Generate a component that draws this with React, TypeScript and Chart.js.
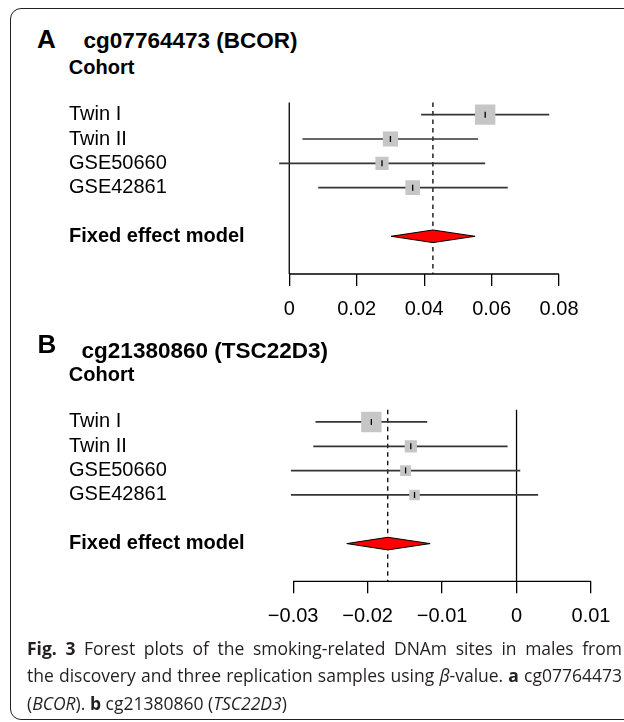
import React, { useEffect, useRef } from "react";
import { Chart, registerables } from "chart.js";

Chart.register(...registerables);

// ---------- data ----------
const COHORTS = ["Twin I", "Twin II", "GSE50660", "GSE42861"];
const MODEL_LABEL = "Fixed effect model";

const A_TITLE = "cg07764473 (BCOR)";
const A_EST = [0.0581, 0.03, 0.0275, 0.0366];
const A_LO = [0.0391, 0.0039, -0.003, 0.0086];
const A_HI = [0.0771, 0.056, 0.0581, 0.0648];
const A_WEIGHT = [40.1, 22.4, 16.9, 20.6];
const A_FIXED_LO = 0.0302;
const A_FIXED_EST = 0.0426;
const A_FIXED_HI = 0.0551;
const A_TICKS = [0, 0.02, 0.04, 0.06, 0.08];
const A_TICK_LABELS = ["0", "0.02", "0.04", "0.06", "0.08"];

const B_TITLE = "cg21380860 (TSC22D3)";
const B_EST = [-0.0195, -0.0142, -0.0149, -0.0137];
const B_LO = [-0.027, -0.0273, -0.0303, -0.0303];
const B_HI = [-0.012, -0.0012, 0.0005, 0.0029];
const B_WEIGHT = [52.3, 18.8, 15.0, 13.9];
const B_FIXED_LO = -0.0228;
const B_FIXED_EST = -0.0173;
const B_FIXED_HI = -0.0116;
const B_TICKS = [-0.03, -0.02, -0.01, 0, 0.01];
const B_TICK_LABELS = ["\u22120.03", "\u22120.02", "\u22120.01", "0", "0.01"];

// ---------- styling ----------
const CHART_FONT = "'Liberation Sans', Arial, Helvetica, sans-serif";
const CAPTION_FONT = "'Open Sans', 'Noto Sans', sans-serif";

type ForestProps = {
  est: number[];
  lo: number[];
  hi: number[];
  weight: number[];
  fixed: [number, number, number];
  ticks: number[];
  tickLabels: string[];
  xMin: number;
  xMax: number;
  top: number;
  height: number;
  padTop: number;
  padRight: number;
  yWidth: number;
  xHeight: number;
};

function Forest(p: ForestProps) {
  const ref = useRef<HTMLCanvasElement | null>(null);
  useEffect(() => {
    if (!ref.current) return;
    const modelRow = COHORTS.length + 1;
    const yMin = -0.5;
    const yMax = COHORTS.length + 2.55;
    const maxW = Math.max(...p.weight);
    const [fLo, fEst, fHi] = p.fixed;
    const h = 0.26;
    const rowTicks = [...COHORTS.map((_, i) => i), modelRow];
    const rowLabel = (v: number) => (v === modelRow ? MODEL_LABEL : COHORTS[v] ?? "");

    const ciSets = p.est.map((_, i) => ({
      data: [
        { x: p.lo[i], y: i },
        { x: p.hi[i], y: i },
      ],
      showLine: true,
      borderColor: "#353535",
      borderWidth: 1.7,
      pointRadius: 0,
      order: 3,
      clip: false as const,
    }));

    const chart = new Chart(ref.current, {
      type: "scatter",
      data: {
        datasets: [
          {
            data: p.est.map((x, i) => ({ x, y: i })),
            pointStyle: "line",
            rotation: 90,
            pointRadius: 3,
            borderColor: "#000",
            borderWidth: 1.3,
            order: 0,
          },
          {
            data: p.est.map((x, i) => ({ x, y: i })),
            pointStyle: "rect",
            pointRadius: p.weight.map((w) => 14.4 * Math.sqrt(w / maxW)),
            backgroundColor: "#c6c6c6",
            borderWidth: 0,
            order: 1,
          },
          {
            data: [
              { x: fLo, y: modelRow },
              { x: fEst, y: modelRow - h },
              { x: fHi, y: modelRow },
              { x: fEst, y: modelRow + h },
              { x: fLo, y: modelRow },
            ],
            showLine: true,
            fill: "shape",
            backgroundColor: "#ff0000",
            borderColor: "#000",
            borderWidth: 1,
            pointRadius: 0,
            order: 2,
          },
          ...ciSets,
          {
            data: [
              { x: fEst, y: yMin },
              { x: fEst, y: yMax },
            ],
            showLine: true,
            borderColor: "#000",
            borderWidth: 1.3,
            borderDash: [4.5, 4],
            pointRadius: 0,
            order: 4,
            clip: false as const,
          },
          {
            data: [
              { x: 0, y: yMin },
              { x: 0, y: yMax },
            ],
            showLine: true,
            borderColor: "#000",
            borderWidth: 1.3,
            pointRadius: 0,
            order: 5,
            clip: false as const,
          },
          {
            data: [
              { x: p.ticks[0], y: yMax },
              { x: p.ticks[p.ticks.length - 1], y: yMax },
            ],
            showLine: true,
            borderColor: "#000",
            borderWidth: 1.3,
            pointRadius: 0,
            order: 5,
            clip: false as const,
          },
        ] as any,
      },
      options: {
        responsive: false,
        animation: false,
        events: [],
        devicePixelRatio: 1,
        layout: { padding: { left: 69, top: p.padTop, right: p.padRight, bottom: 0 } },
        plugins: { legend: { display: false }, tooltip: { enabled: false }, title: { display: false } },
        scales: {
          x: {
            type: "linear",
            min: p.xMin,
            max: p.xMax,
            afterBuildTicks: (s: any) => {
              s.ticks = p.ticks.map((v) => ({ value: v }));
            },
            afterFit: (s: any) => {
              s.height = p.xHeight;
            },
            grid: {
              display: true,
              drawOnChartArea: false,
              drawTicks: true,
              tickLength: 12,
              color: "#000",
              lineWidth: 1.3,
            },
            border: { display: false },
            ticks: {
              autoSkip: false,
              maxRotation: 0,
              padding: 11,
              color: "#000",
              font: { family: CHART_FONT, size: 20 },
              callback: (_v: any, i: number) => p.tickLabels[i],
            },
          },
          y: {
            type: "linear",
            reverse: true,
            min: yMin,
            max: yMax,
            afterBuildTicks: (s: any) => {
              s.ticks = rowTicks.map((v) => ({ value: v }));
            },
            afterFit: (s: any) => {
              s.width = p.yWidth;
            },
            grid: { display: false },
            border: { display: false },
            ticks: {
              autoSkip: false,
              crossAlign: "far",
              color: "#000",
              font: (ctx: any) => ({
                family: CHART_FONT,
                size: 20,
                weight: ctx.tick && ctx.tick.value === modelRow ? "bold" : "normal",
              }),
              callback: (v: any) => rowLabel(Number(v)),
            },
          },
        },
      } as any,
    });
    return () => chart.destroy();
  }, []);
  return (
    <canvas
      ref={ref}
      width={624}
      height={p.height}
      style={{ position: "absolute", left: 0, top: p.top, width: 624, height: p.height }}
    />
  );
}

const heading = (
  text: string,
  left: number,
  top: number,
  size: number
): React.ReactElement => (
  <div
    style={{
      position: "absolute",
      left,
      top,
      fontFamily: CHART_FONT,
      fontSize: size,
      fontWeight: "bold",
      lineHeight: `${size}px`,
      whiteSpace: "nowrap",
      color: "#000",
    }}
  >
    {text}
  </div>
);

export default function App() {
  const lineStyle: React.CSSProperties = {
    height: 27.5,
    lineHeight: "27.5px",
    whiteSpace: "nowrap",
  };
  return (
    <div
      style={{
        position: "absolute",
        left: 0,
        top: 0,
        width: 624,
        height: 722,
        overflow: "hidden",
        background: "#fff",
      }}
    >
      <div
        style={{
          position: "absolute",
          left: 10.2,
          top: 7.5,
          width: 720,
          height: 712,
          border: "1.6px solid #222",
          borderRadius: 11,
          boxSizing: "border-box",
        }}
      />
      {heading("A", 37, 25.5, 26)}
      {heading(A_TITLE, 83.6, 30.3, 22.5)}
      {heading("Cohort", 68.8, 57.1, 20)}
      <Forest
        est={A_EST}
        lo={A_LO}
        hi={A_HI}
        weight={A_WEIGHT}
        fixed={[A_FIXED_LO, A_FIXED_EST, A_FIXED_HI]}
        ticks={A_TICKS}
        tickLabels={A_TICK_LABELS}
        xMin={-0.005}
        xMax={0.085}
        top={0}
        height={330}
        padTop={102.5}
        padRight={48.1}
        yWidth={203.4}
        xHeight={56}
      />
      {heading("B", 37.5, 331.3, 26)}
      {heading(B_TITLE, 81.6, 340.3, 22.5)}
      {heading("Cohort", 68.8, 363.8, 20)}
      <Forest
        est={B_EST}
        lo={B_LO}
        hi={B_HI}
        weight={B_WEIGHT}
        fixed={[B_FIXED_LO, B_FIXED_EST, B_FIXED_HI]}
        ticks={B_TICKS}
        tickLabels={B_TICK_LABELS}
        xMin={-0.0315}
        xMax={0.0125}
        top={320}
        height={320}
        padTop={89.8}
        padRight={13.3}
        yWidth={213}
        xHeight={58.7}
      />
      <div
        style={{
          position: "absolute",
          left: 27,
          top: 634.6,
          fontFamily: CAPTION_FONT,
          fontSize: 17.5,
          color: "#231f20",
        }}
      >
        <div style={{ ...lineStyle, width: 595, textAlign: "justify", textAlignLast: "justify" }}>
          <b>Fig. 3</b> Forest plots of the smoking-related DNAm sites in males from
        </div>
        <div style={{ ...lineStyle, width: 595, textAlign: "justify", textAlignLast: "justify" }}>
          the discovery and three replication samples using <i>β</i>-value. <b>a</b> cg07764473
        </div>
        <div style={lineStyle}>
          (<i>BCOR</i>). <b>b</b> cg21380860 (<i>TSC22D3</i>)
        </div>
      </div>
    </div>
  );
}
